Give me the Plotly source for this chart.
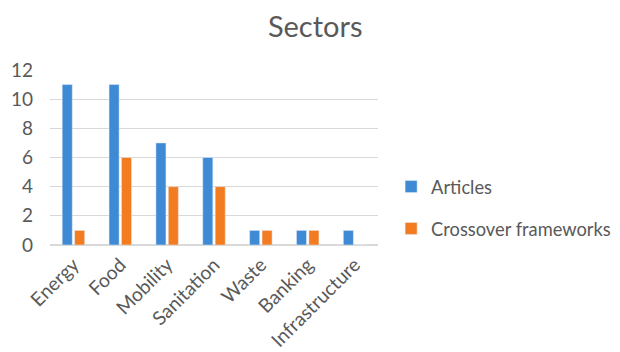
import plotly.graph_objects as go

categories = ["Energy", "Food", "Mobility", "Sanitation", "Waste", "Banking", "Infrastructure"]
articles = [11, 11, 7, 6, 1, 1, 1]
crossover = [1, 6, 4, 4, 1, 1, 0]
y_ticks = [0, 2, 4, 6, 8, 10, 12]

FONT = "Lato, Open Sans, sans-serif"
GRAY = "#595959"

fig = go.Figure()
fig.add_trace(go.Bar(x=categories, y=articles, name="Articles", marker_color="#3f8ad4",
                     legendgroup="a"))
fig.add_trace(go.Bar(x=categories, y=crossover, name="Crossover frameworks", marker_color="#f47c20",
                     legendgroup="b"))

# page body has an 8px default margin; figure sized to fit the 620x352 window
fig.update_layout(
    width=612, height=344,
    paper_bgcolor="white", plot_bgcolor="white",
    margin=dict(l=42, r=242, t=62, b=107, autoexpand=False),
    barmode="group", bargap=0.47, bargroupgap=0.19,
    title=dict(text="Sectors", x=0.502, xref="container", xanchor="center",
               y=0.945, yref="container", yanchor="middle",
               font=dict(family=FONT, size=29, color=GRAY)),
    font=dict(family=FONT, color=GRAY),
    legend=dict(x=1.04, xref="paper", y=0.213, yanchor="middle", font=dict(size=18.3, color=GRAY),
                traceorder="grouped", tracegroupgap=15, itemwidth=30),
    showlegend=True,
)
fig.update_yaxes(range=[0, 12], tickvals=y_ticks, showgrid=True, gridcolor="#d9d9d9",
                 zeroline=True, zerolinecolor="#d9d9d9", tickfont=dict(size=19, color=GRAY),
                 ticks="", showline=False, automargin=False, ticklabelstandoff=16)
fig.update_xaxes(tickangle=-45, tickfont=dict(size=19.3, color=GRAY), showline=True,
                 linecolor="#d9d9d9", ticks="", automargin=False)
fig.write_html("out.html")
